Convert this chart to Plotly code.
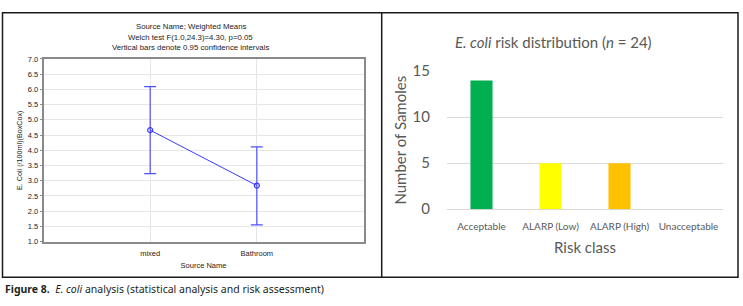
import plotly.graph_objects as go

# ---- Left panel data (weighted means with 95% CI) ----
source_names = ["mixed", "Bathroom"]
mean_values = [4.66, 2.84]
ci_upper = [6.09, 4.11]
ci_lower = [3.23, 1.55]
left_yticks = [1.0, 1.5, 2.0, 2.5, 3.0, 3.5, 4.0, 4.5, 5.0, 5.5, 6.0, 6.5, 7.0]

# ---- Right panel data (risk distribution) ----
risk_classes = ["Acceptable", "ALARP (Low)", "ALARP (High)", "Unacceptable"]
sample_counts = [14, 5, 5, 0]
bar_colors = ["#00B050", "#FFFF00", "#FFC000", "#C00000"]
right_yticks = [0, 5, 10, 15]

W, H = 743, 306
def px(x):
    return x / W
def py(y):
    return 1 - y / H

fig = go.Figure()

err_plus = [u - m for u, m in zip(ci_upper, mean_values)]
err_minus = [m - l for m, l in zip(mean_values, ci_lower)]

fig.add_trace(go.Scatter(
    x=source_names, y=mean_values, mode="lines+markers",
    line=dict(color="#3a3aff", width=1),
    marker=dict(symbol="circle-open", size=5, color="#3a3aff", line=dict(width=1.2)),
    error_y=dict(type="data", array=err_plus, arrayminus=err_minus,
                 color="#5050ff", thickness=1.2, width=6),
    xaxis="x", yaxis="y", showlegend=False, cliponaxis=False,
))

fig.add_trace(go.Bar(
    x=risk_classes, y=sample_counts, marker=dict(color=bar_colors, line=dict(width=0)),
    xaxis="x2", yaxis="y2", showlegend=False,
))

left_family = "Liberation Sans, Arial, sans-serif"
left_font = dict(family=left_family, size=7.5, color="#222")
right_family = "Lato, Open Sans, sans-serif"
clear = "rgba(0,0,0,0)"

fig.update_layout(
    width=W, height=H, autosize=False, margin=dict(l=0, r=0, t=0, b=0),
    paper_bgcolor="white", plot_bgcolor="white",
    bargap=0.68,
    xaxis=dict(domain=[px(43.5), px(363.5)], anchor="y", type="category", range=[-1, 2],
               showgrid=True, gridcolor="#e6e6e6", gridwidth=1,
               showline=True, linecolor="#8a8a8a", linewidth=1.5, mirror=True,
               tickfont=left_font, ticks="outside", ticklen=4, tickcolor=clear,
               title=dict(text="Source Name", font=left_font, standoff=5),
               zeroline=False, fixedrange=True),
    yaxis=dict(domain=[py(246), py(52)], anchor="x", range=[1, 7], tickvals=left_yticks,
               tickformat=".1f", showgrid=True, gridcolor="#e6e6e6", gridwidth=1,
               showline=True, linecolor="#8a8a8a", linewidth=1.5, mirror=True,
               tickfont=left_font, ticks="outside", ticklen=2, tickcolor="#8a8a8a",
               title=dict(text="E. Coli (/100ml)(BoxCox)", font=dict(family=left_family, size=7.2, color="#222"), standoff=4),
               zeroline=False, fixedrange=True),
    xaxis2=dict(domain=[px(447), px(723)], anchor="y2", type="category",
                showgrid=False, showline=False, ticks="outside", ticklen=8, tickcolor=clear,
                tickfont=dict(family=right_family, size=10, color="#595959"),
                title=dict(text="Risk class", font=dict(family=right_family, size=15, color="#595959"), standoff=11),
                fixedrange=True),
    yaxis2=dict(domain=[py(211.7), py(65)], anchor="x2", range=[0, 15], tickvals=right_yticks,
                showgrid=True, gridcolor="#d9d9d9", gridwidth=1, zeroline=True,
                zerolinecolor="#d9d9d9", zerolinewidth=1, showline=False,
                ticks="outside", ticklen=13, tickcolor=clear,
                tickfont=dict(family=right_family, size=15, color="#595959"),
                title=dict(text="Number of Samoles", font=dict(family=right_family, size=15, color="#595959"), standoff=2),
                fixedrange=True),
)

# Left panel title lines
left_titles = ["Source Name; Weighted Means",
               "Welch test F(1.0,24.3)=4.30, p=0.05",
               "Vertical bars denote 0.95 confidence intervals"]
for i, t in enumerate(left_titles):
    fig.add_annotation(x=px(191), y=py(18 + 11 * i), xref="paper", yref="paper",
                       text=t, showarrow=False, xanchor="center", yanchor="middle",
                       font=dict(family=left_family, size=7.8, color="#222"))

# Right panel title
fig.add_annotation(x=px(553), y=py(34), xref="paper", yref="paper",
                   text="<i>E. coli</i> risk distribution (<i>n</i> = 24)", showarrow=False,
                   xanchor="center", yanchor="middle",
                   font=dict(family=right_family, size=15, color="#595959"))

# Caption
fig.add_annotation(x=px(3), y=py(296), xref="paper", yref="paper",
                   text="<b>Figure 8.</b>  <i>E. coli</i> analysis (statistical analysis and risk assessment)",
                   showarrow=False, xanchor="left", yanchor="middle",
                   font=dict(family="Noto Sans, Open Sans, sans-serif", size=10.5, color="#231f20"))

# Frames
fig.add_shape(type="rect", xref="paper", yref="paper",
              x0=px(2.5), x1=px(738), y0=py(284), y1=py(3),
              line=dict(color="#1a1a1a", width=1.5), fillcolor="rgba(0,0,0,0)")
fig.add_shape(type="line", xref="paper", yref="paper",
              x0=px(381.7), x1=px(381.7), y0=py(284), y1=py(3),
              line=dict(color="#1a1a1a", width=1.5))

fig.write_html(
    "out.html",
    config={"responsive": False, "displayModeBar": False},
    post_script="document.body.style.margin='0';document.body.style.overflow='hidden';",
)
